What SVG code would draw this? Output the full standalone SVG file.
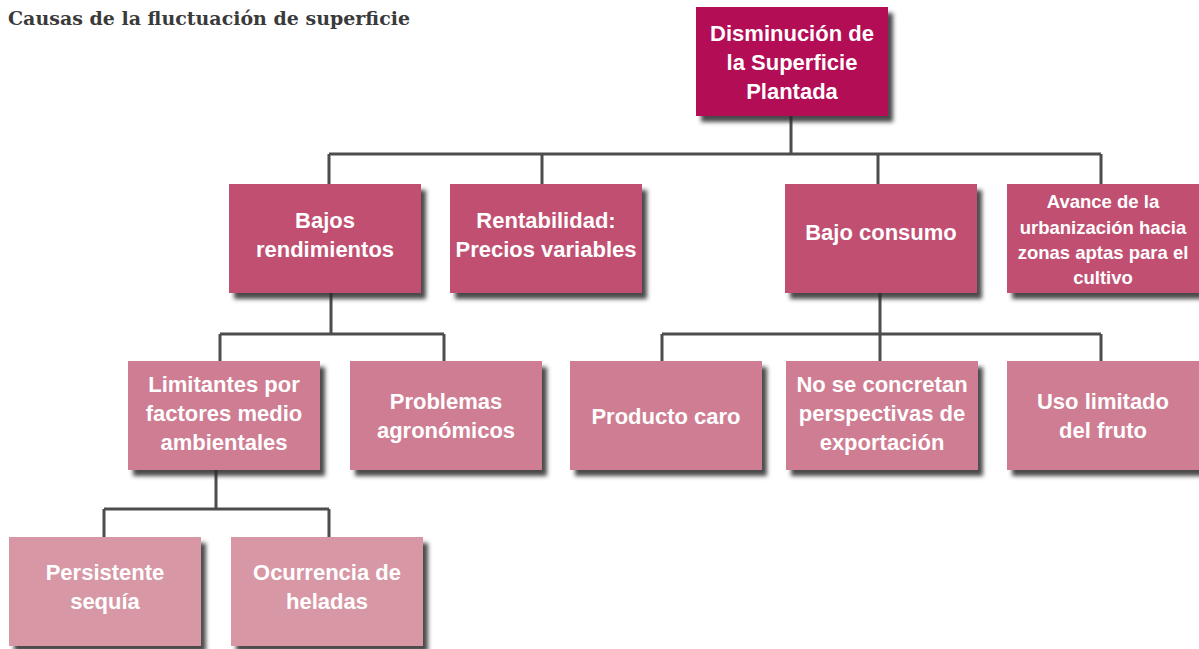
<svg xmlns="http://www.w3.org/2000/svg" width="1199" height="649" viewBox="0 0 1199 649">
<defs>
<filter id="sh" x="-10%" y="-10%" width="130%" height="130%">
<feDropShadow dx="5" dy="6" stdDeviation="2" flood-color="#2a2a2a" flood-opacity="0.85"/>
</filter>
<style>
.box{filter:url(#sh);}
.l1{fill:#b30b55;}
.l2{fill:#c15072;}
.l3{fill:#cf7d92;}
.l4{fill:#d897a4;}
.t{font-family:"Liberation Sans",Arial,sans-serif;font-weight:bold;font-size:22px;fill:#ffffff;text-anchor:middle;}
.ts{font-size:18.5px;}
.title{font-family:"DejaVu Serif","Liberation Serif",serif;font-weight:bold;font-size:19px;fill:#3a3a3a;}
.conn{fill:none;stroke:#4d4d4d;stroke-width:3;}
</style>
</defs>
<rect width="1199" height="649" fill="#ffffff"/>
<text class="title" x="8" y="25" textLength="402" lengthAdjust="spacingAndGlyphs">Causas de la fluctuación de superficie</text>
<g id="connectors">
<path class="conn" d="M791,116 V154 M329,154 H1101 M329,154 V184 M542,154 V184 M878,154 V184 M1101,154 V184"/>
<path class="conn" d="M331,293 V334 M220,334 H444 M220,334 V361 M444,334 V361"/>
<path class="conn" d="M880,293 V334 M662,334 H1101 M662,334 V361 M880,334 V361 M1101,334 V361"/>
<path class="conn" d="M216,470 V509 M104,509 H329 M104,509 V537 M329,509 V537"/>
</g>
<g id="n-disminucion"><rect class="box l1" x="696" y="7" width="192" height="109"/>
<text class="t" x="792" y="41">Disminución de</text><text class="t" x="792" y="70">la Superficie</text><text class="t" x="792" y="99">Plantada</text></g>
<g id="n-bajos-rendimientos"><rect class="box l2" x="229" y="184" width="192" height="109"/>
<text class="t" x="325" y="228">Bajos</text><text class="t" x="325" y="257">rendimientos</text></g>
<g id="n-rentabilidad"><rect class="box l2" x="450" y="184" width="192" height="109"/>
<text class="t" x="546" y="228">Rentabilidad:</text><text class="t" x="546" y="257">Precios variables</text></g>
<g id="n-bajo-consumo"><rect class="box l2" x="785" y="184" width="192" height="109"/>
<text class="t" x="881" y="240">Bajo consumo</text></g>
<g id="n-urbanizacion"><rect class="box l2" x="1007" y="184" width="192" height="109"/>
<text class="t ts" x="1103" y="208">Avance de la</text><text class="t ts" x="1103" y="234">urbanización hacia</text><text class="t ts" x="1103" y="259">zonas aptas para el</text><text class="t ts" x="1103" y="284">cultivo</text></g>
<g id="n-limitantes"><rect class="box l3" x="128" y="361" width="192" height="109"/>
<text class="t" x="224" y="392">Limitantes por</text><text class="t" x="224" y="421">factores medio</text><text class="t" x="224" y="450">ambientales</text></g>
<g id="n-problemas"><rect class="box l3" x="350" y="361" width="192" height="109"/>
<text class="t" x="446" y="409">Problemas</text><text class="t" x="446" y="438">agronómicos</text></g>
<g id="n-producto-caro"><rect class="box l3" x="570" y="361" width="192" height="109"/>
<text class="t" x="666" y="424">Producto caro</text></g>
<g id="n-exportacion"><rect class="box l3" x="786" y="361" width="192" height="109"/>
<text class="t" x="882" y="392">No se concretan</text><text class="t" x="882" y="421">perspectivas de</text><text class="t" x="882" y="450">exportación</text></g>
<g id="n-uso-limitado"><rect class="box l3" x="1007" y="361" width="192" height="109"/>
<text class="t" x="1103" y="409">Uso limitado</text><text class="t" x="1103" y="438">del fruto</text></g>
<g id="n-sequia"><rect class="box l4" x="9" y="537" width="192" height="109"/>
<text class="t" x="105" y="580">Persistente</text><text class="t" x="105" y="609">sequía</text></g>
<g id="n-heladas"><rect class="box l4" x="231" y="537" width="192" height="109"/>
<text class="t" x="327" y="580">Ocurrencia de</text><text class="t" x="327" y="609">heladas</text></g>
</svg>
